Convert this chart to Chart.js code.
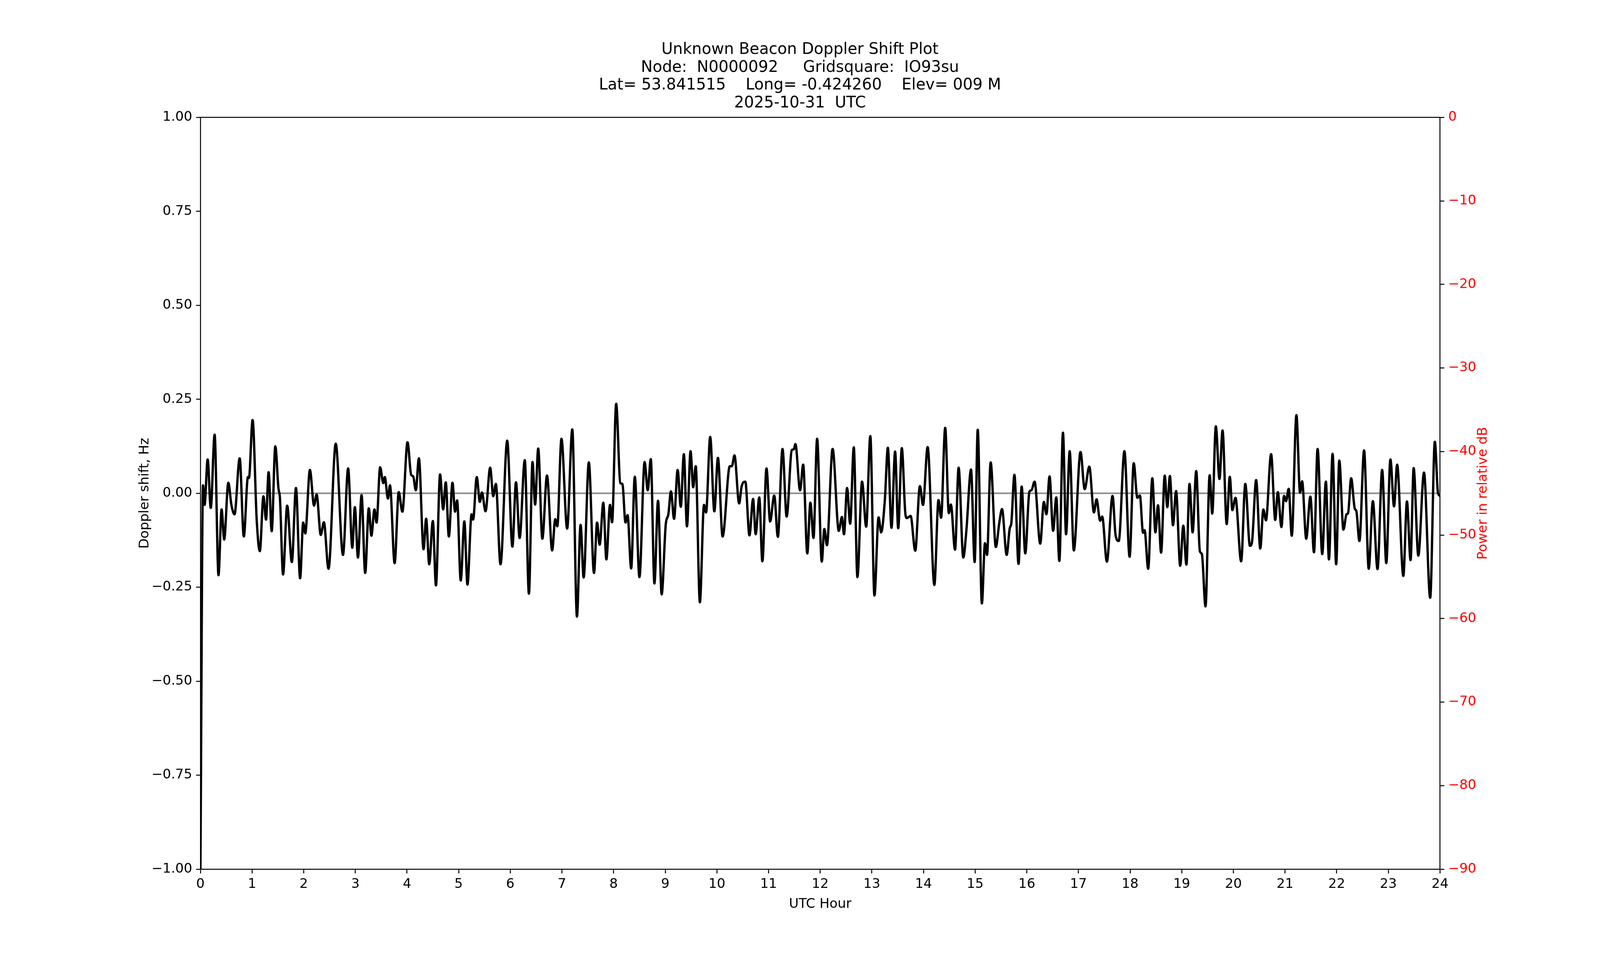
<!DOCTYPE html>
<html><head><meta charset="utf-8">
<script src="https://cdn.jsdelivr.net/npm/chart.js@4.4.0/dist/chart.umd.min.js"></script>
<style>html,body{margin:0;padding:0;background:#fff;overflow:hidden}canvas{display:block}</style>
</head><body><canvas id="c"></canvas>
<script>
const titleLines = ["Unknown Beacon Doppler Shift Plot","Node:  N0000092     Gridsquare:  IO93su","Lat= 53.841515    Long= -0.424260    Elev= 009 M","2025-10-31  UTC"];
const hours = [0,0.05,0.08,0.14,0.20,0.275,0.35,0.41,0.46,0.54,0.60,0.66,0.76,0.84,0.92,0.94,1.01,1.09,1.15,1.22,1.27,1.32,1.38,1.45,1.51,1.54,1.60,1.68,1.77,1.85,1.93,1.99,2.03,2.12,2.20,2.25,2.33,2.39,2.48,2.62,2.76,2.86,2.94,2.99,3.05,3.12,3.19,3.26,3.31,3.37,3.41,3.48,3.54,3.57,3.63,3.67,3.76,3.84,3.91,4.01,4.08,4.12,4.17,4.23,4.32,4.37,4.43,4.50,4.56,4.64,4.70,4.75,4.81,4.88,4.93,4.97,5.04,5.11,5.17,5.25,5.28,5.35,5.41,5.45,5.52,5.61,5.67,5.72,5.81,5.94,6.04,
6.11,6.18,6.28,6.36,6.43,6.48,6.54,6.62,6.71,6.81,6.87,6.91,6.99,7.10,7.20,7.29,7.36,7.42,7.52,7.62,7.68,7.73,7.80,7.86,7.93,7.97,8.05,8.13,8.17,8.23,8.27,8.34,8.41,8.50,8.60,8.66,8.72,8.79,8.86,8.93,9.01,9.06,9.11,9.17,9.24,9.30,9.36,9.42,9.49,9.54,9.59,9.67,9.75,9.79,9.87,9.95,10.02,10.11,10.25,10.29,10.34,10.43,10.48,10.55,10.63,10.70,10.75,10.82,10.88,10.96,11.03,11.11,11.18,11.27,11.35,11.45,11.49,11.52,11.61,11.67,11.75,11.81,11.87,11.94,12.03,12.08,
12.13,12.24,12.36,12.42,12.46,12.52,12.58,12.65,12.72,12.81,12.89,12.97,13.05,13.13,13.18,13.25,13.31,13.38,13.45,13.51,13.58,13.65,13.68,13.75,13.84,13.93,13.99,14.08,14.21,14.29,14.34,14.42,14.49,14.53,14.61,14.68,14.77,14.83,14.92,14.99,15.05,15.13,15.19,15.23,15.30,15.40,15.47,15.52,15.61,15.67,15.70,15.76,15.84,15.90,15.97,16.05,16.09,16.15,16.26,16.33,16.38,16.44,16.51,16.57,16.63,16.70,16.76,16.83,16.91,17.04,17.12,17.21,17.30,17.35,17.42,17.46,17.55,17.66,17.72,17.78,17.89,17.99,18.07,18.14,
18.19,18.25,18.28,18.35,18.43,18.49,18.54,18.60,18.67,18.72,18.77,18.83,18.89,18.97,19.03,19.09,19.15,19.21,19.28,19.35,19.39,19.46,19.54,19.59,19.66,19.73,19.79,19.87,19.93,19.98,20.04,20.15,20.23,20.32,20.36,20.44,20.52,20.58,20.63,20.73,20.81,20.86,20.93,20.98,21.02,21.07,21.13,21.22,21.29,21.33,21.41,21.49,21.56,21.63,21.72,21.79,21.85,21.92,21.99,22.05,22.13,22.19,22.22,22.28,22.35,22.38,22.44,22.53,22.62,22.70,22.79,22.88,22.96,23.04,23.11,23.17,23.29,23.36,23.43,23.49,23.58,23.69,23.81,23.90,23.96,24.0];
const doppler = [-1.0,0.021,-0.031,0.090,-0.039,0.156,-0.218,-0.043,-0.123,0.028,-0.031,-0.056,0.093,-0.115,0.043,0.041,0.195,-0.072,-0.154,-0.008,-0.070,0.056,-0.101,0.125,0.014,-0.014,-0.216,-0.033,-0.183,0.014,-0.226,-0.078,-0.107,0.062,-0.033,-0.003,-0.111,-0.077,-0.201,0.132,-0.164,0.066,-0.145,-0.037,-0.171,-0.005,-0.212,-0.040,-0.113,-0.043,-0.078,0.069,0.027,0.043,-0.014,0.021,-0.186,0.003,-0.049,0.136,0.049,0.045,0.008,0.093,-0.149,-0.068,-0.189,-0.074,-0.245,0.050,-0.043,0.029,-0.115,0.028,-0.049,-0.019,-0.232,-0.075,-0.243,-0.056,-0.070,0.043,-0.023,0.002,-0.048,0.068,-0.008,0.025,-0.189,0.140,-0.142,
0.029,-0.119,0.088,-0.267,0.083,-0.030,0.119,-0.121,0.047,-0.152,-0.069,-0.088,0.145,-0.094,0.170,-0.328,-0.084,-0.224,0.082,-0.212,-0.078,-0.137,-0.025,-0.176,-0.031,-0.077,0.238,0.027,0.025,-0.078,-0.058,-0.200,0.044,-0.223,0.083,0.008,0.091,-0.240,-0.020,-0.269,-0.082,-0.056,0.005,-0.068,0.062,-0.036,0.104,-0.088,0.112,0.016,0.072,-0.290,-0.031,-0.051,0.150,-0.048,0.094,-0.115,0.072,0.072,0.101,-0.027,0.019,0.031,-0.112,-0.015,-0.109,-0.011,-0.181,0.066,-0.075,-0.006,-0.116,0.118,-0.062,0.115,0.117,0.131,0.008,0.076,-0.160,-0.025,-0.119,0.145,-0.182,-0.095,
-0.138,0.118,-0.100,-0.063,-0.109,0.014,-0.081,0.122,-0.223,0.031,-0.089,0.152,-0.272,-0.064,-0.104,-0.021,0.121,-0.092,0.111,-0.093,0.120,-0.056,-0.066,-0.060,-0.153,0.019,-0.031,0.123,-0.244,-0.018,-0.065,0.174,-0.053,-0.030,-0.150,0.068,-0.171,-0.099,0.063,-0.183,0.169,-0.293,-0.133,-0.164,0.082,-0.143,-0.076,-0.042,-0.164,-0.093,-0.080,0.049,-0.188,0.018,-0.160,0.004,0.008,0.031,-0.134,-0.023,-0.056,0.045,-0.100,-0.011,-0.180,0.161,-0.109,0.112,-0.152,0.110,0.011,0.071,-0.051,-0.016,-0.073,-0.062,-0.182,-0.007,-0.113,-0.127,0.112,-0.169,0.080,-0.012,
-0.006,-0.105,-0.098,-0.201,0.040,-0.104,-0.032,-0.158,0.047,-0.037,0.046,-0.085,0.006,-0.193,-0.086,-0.190,0.025,-0.104,0.059,-0.154,-0.162,-0.301,0.048,-0.054,0.178,0.038,0.167,-0.082,0.044,-0.045,-0.012,-0.181,0.025,-0.140,-0.130,0.035,-0.147,-0.043,-0.072,0.104,-0.071,0.003,-0.090,-0.007,-0.021,0.012,-0.113,0.208,0.002,0.032,-0.121,-0.009,-0.157,0.118,-0.162,0.031,-0.176,0.105,-0.189,0.087,-0.097,-0.056,-0.053,0.040,-0.041,-0.047,-0.127,0.114,-0.201,-0.021,-0.202,0.062,-0.186,0.090,-0.035,0.076,-0.220,-0.022,-0.178,0.067,-0.166,0.055,-0.278,0.137,0.002,-0.007];
const hourTicks = [0,1,2,3,4,5,6,7,8,9,10,11,12,13,14,15,16,17,18,19,20,21,22,23,24];
const dopplerTicks = [-1,-0.75,-0.5,-0.25,0,0.25,0.5,0.75,1];
const powerTicks = [-90,-80,-70,-60,-50,-40,-30,-20,-10,0];
const axisTitles = {x:'UTC Hour', y:'Doppler shift, Hz', y2:'Power in relative dB'};

const W = window.innerWidth || 4750, H = window.innerHeight || 2500;
const sx = W/4750, sy = H/2500;
const cv = document.getElementById('c');
cv.width = W; cv.height = H; cv.style.width = W+'px'; cv.style.height = H+'px';

const F = "'DejaVu Sans'";
const minus = s => String(s).replace('-', '\u2212');
const pts = hours.map((h,i)=>({x:h,y:doppler[i]}));

const axisTitlePlugin = {
  id:'axisTitles',
  afterDraw(chart){
    const ctx = chart.ctx, a = chart.chartArea;
    ctx.save();
    ctx.font = "34px " + F; ctx.textAlign='center'; ctx.textBaseline='middle';
    ctx.fillStyle = '#000';
    ctx.fillText(axisTitles.x, (a.left+a.right)/2, a.bottom+90*sy);
    ctx.save(); ctx.translate(a.left-165*sx,(a.top+a.bottom)/2); ctx.rotate(-Math.PI/2);
    ctx.fillText(axisTitles.y,0,0); ctx.restore();
    ctx.fillStyle = '#ff0000';
    ctx.save(); ctx.translate(a.right+128*sx,(a.top+a.bottom)/2); ctx.rotate(-Math.PI/2);
    ctx.fillText(axisTitles.y2,0,0); ctx.restore();
    ctx.restore();
  }
};

new Chart(cv, {
  type:'line',
  data:{datasets:[
    {data:pts, borderColor:'#000', borderWidth:6, pointRadius:0, cubicInterpolationMode:'monotone', order:1},
    {data:[{x:0,y:0},{x:24,y:0}], borderColor:'#8c8c8c', borderWidth:4, pointRadius:0, order:2}
  ]},
  plugins:[axisTitlePlugin],
  options:{
    responsive:false, devicePixelRatio:1, animation:false,
    layout:{padding:0},
    plugins:{legend:{display:false}, tooltip:{enabled:false},
      title:{display:true, text:titleLines, color:'#000', font:{family:F,size:40,weight:'normal',lineHeight:1.14}, padding:{top:105*sy,bottom:13*sy}}},
    scales:{
      x:{type:'linear', min:0, max:24, position:'bottom',
        afterBuildTicks:s=>{s.ticks=hourTicks.map(v=>({value:v}));},
        afterFit:s=>{s.height=276*sy;},
        ticks:{color:'#000', font:{family:F,size:34}, padding:8, maxRotation:0, autoSkip:false},
        grid:{drawOnChartArea:false, drawTicks:true, tickLength:11, tickColor:'#000', tickWidth:2.5},
        border:{display:true,color:'#000',width:2.5}},
      xTop:{type:'linear', min:0, max:24, position:'top', afterFit:s=>{s.height=0;},
        ticks:{display:false}, grid:{display:false,drawTicks:false}, border:{display:true,color:'#000',width:2.5}},
      y:{type:'linear', min:-1, max:1, position:'left',
        afterBuildTicks:s=>{s.ticks=dopplerTicks.map(v=>({value:v}));},
        afterFit:s=>{s.width=595*sx;},
        ticks:{color:'#000', font:{family:F,size:34}, padding:10, callback:v=>minus(Number(v).toFixed(2))},
        grid:{drawOnChartArea:false, drawTicks:true, tickLength:11, tickColor:'#000', tickWidth:2.5},
        border:{display:true,color:'#000',width:2.5}},
      y2:{type:'linear', min:-90, max:0, position:'right',
        afterBuildTicks:s=>{s.ticks=powerTicks.map(v=>({value:v}));},
        afterFit:s=>{s.width=475*sx;},
        ticks:{color:'#ff0000', font:{family:F,size:34}, padding:10, callback:v=>minus(v)},
        grid:{drawOnChartArea:false, drawTicks:true, tickLength:11, tickColor:'#000', tickWidth:2.5},
        border:{display:true,color:'#000',width:2.5}}
    }
  }
});
</script></body></html>
